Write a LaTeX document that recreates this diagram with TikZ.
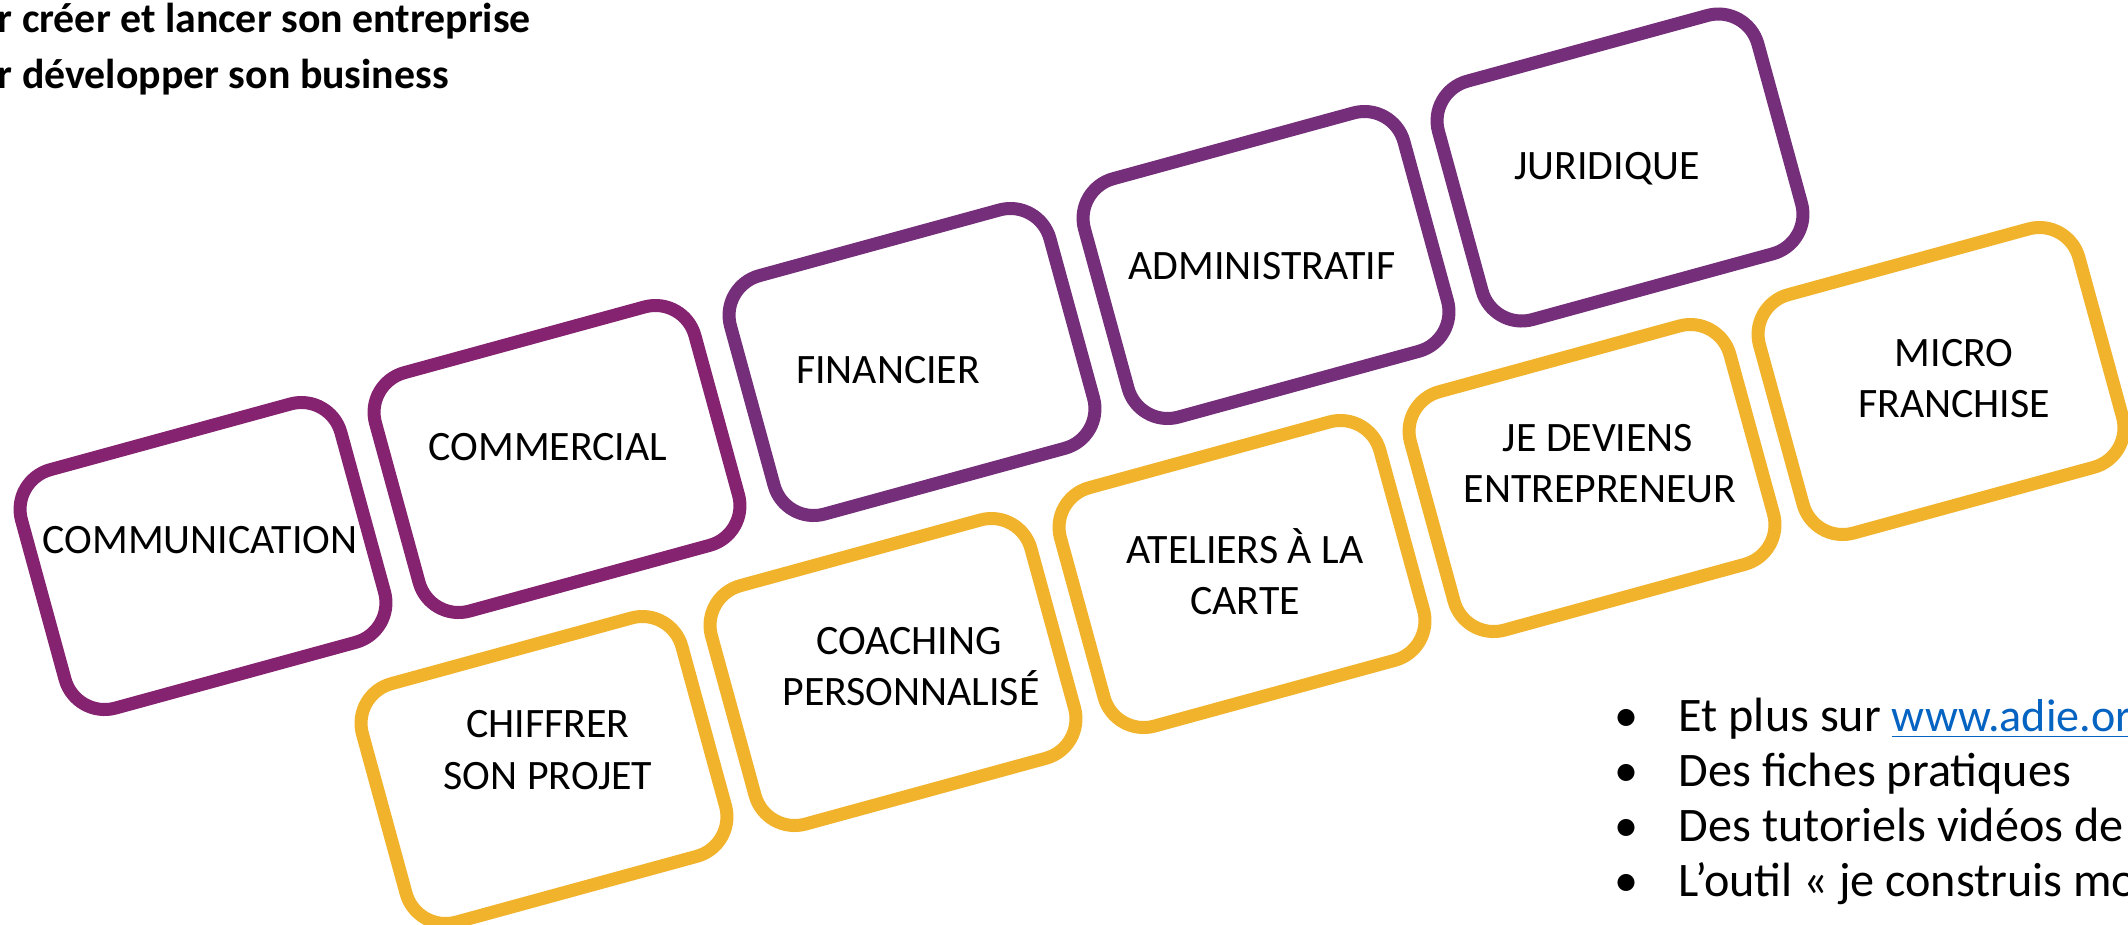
\documentclass[tikz,border=0pt]{standalone}
\usepackage{fontspec}
\setmainfont{Carlito}
\definecolor{purA}{HTML}{862371}
\definecolor{purB}{HTML}{742E7A}
\definecolor{yel}{HTML}{F1B32B}
\definecolor{lnk}{HTML}{0563C1}
\begin{document}
\begin{tikzpicture}[x=0.01cm,y=-0.01cm,
  tile/.style={draw, rounded corners=0.41cm, line width=0.13cm, minimum width=3.31cm, minimum height=2.47cm, inner sep=0pt, rotate=15.3},
  lbl/.style={font=\fontsize{11.9pt}{14pt}\selectfont, inner sep=0pt, text height=0.26cm, text depth=0pt, anchor=center},
  ttl/.style={font=\fontsize{11.9pt}{15pt}\selectfont\bfseries, inner sep=0pt, anchor=base west},
  blt/.style={font=\fontsize{13.7pt}{16pt}\selectfont, inner sep=0pt, anchor=base west}]
\useasboundingbox[fill=white] (0,0) rectangle (2128,924);
% purple row
\node[tile,draw=purA] (b1) at (203,556) {};
\node[tile,draw=purA] (b2) at (557,459) {};
\node[tile,draw=purB] (b3) at (912,362) {};
\node[tile,draw=purB] (b4) at (1266,265) {};
\node[tile,draw=purB] (b5) at (1620,167.5) {};
% yellow row
\node[tile,draw=yel] (y1) at (544,770) {};
\node[tile,draw=yel] (y2) at (893,672) {};
\node[tile,draw=yel] (y3) at (1242,574) {};
\node[tile,draw=yel] (y4) at (1592,478) {};
\node[tile,draw=yel] (y5) at (1941,381) {};
% labels
\node[lbl] (t1) at (200,540) {COMMUNICATION};
\node[lbl] (t2) at (548,447) {COMMERCIAL};
\node[lbl] (t3) at (888,370) {FINANCIER};
\node[lbl] (t4) at (1262,266) {ADMINISTRATIF};
\node[lbl] (t5) at (1607,166) {JURIDIQUE};
\node[lbl] (u1a) at (548,724.5) {CHIFFRER};
\node[lbl] (u1b) at (548,776) {SON PROJET};
\node[lbl] (u2a) at (909,641) {COACHING};
\node[lbl] (u2b) at (911,692) {PERSONNALISÉ};
\node[lbl] (u3a) at (1245,550.5) {ATELIERS À LA};
\node[lbl] (u3b) at (1245,601.5) {CARTE};
\node[lbl] (u4a) at (1598,438) {JE DEVIENS};
\node[lbl] (u4b) at (1600,489) {ENTREPRENEUR};
\node[lbl] (u5a) at (1954,353) {MICRO};
\node[lbl] (u5b) at (1954,404) {FRANCHISE};
% title
\node[ttl] (h1) at (-3,32) {r créer et lancer son entreprise};
\node[ttl] (h2) at (-3,88) {r développer son business};
% bullets
\node[blt] (d1) at (1614,731) {•};
\node[blt] (d2) at (1614,786) {•};
\node[blt] (d3) at (1614,841) {•};
\node[blt] (d4) at (1614,896) {•};
\node[blt] (p1) at (1678,731) {Et plus sur \textcolor{lnk}{\fontsize{13.1pt}{16pt}\selectfont\underline{www.adie.or}}};
\node[blt] (p2) at (1678,786) {Des fiches pratiques};
\node[blt] (p3) at (1678,841) {Des tutoriels vidéos de};
\node[blt] (p4) at (1678,896) {L’outil « je construis mo};
\end{tikzpicture}
\end{document}
